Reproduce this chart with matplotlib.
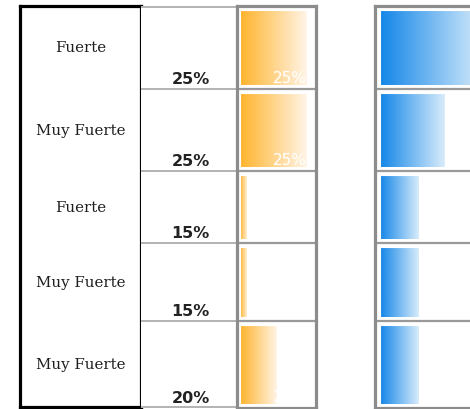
import matplotlib
matplotlib.use('agg')
import matplotlib.pyplot as plt
import numpy as np
from matplotlib.colors import LinearSegmentedColormap

# data
labels = ['Fuerte', 'Muy Fuerte', 'Fuerte', 'Muy Fuerte', 'Muy Fuerte']
pct = [25, 25, 15, 15, 20]
pct_text = ['25%', '25%', '15%', '15%', '20%']
blue_vals = [40, 25, 15, 15, 15]

# layout (pixels from the top of a 470x409 canvas)
W, H = 470, 409
row_edges = [6, 89, 171, 243, 321, 408]
orange_base = 13.83

fig = plt.figure(figsize=(W / 100, H / 100), dpi=100)

def add_ax(x0, x1, y0, y1):
    ax = fig.add_axes([x0 / W, 1 - y1 / H, (x1 - x0) / W, (y1 - y0) / H])
    ax.set_xticks([])
    ax.set_yticks([])
    return ax

centers = [(a + b) / 2 for a, b in zip(row_edges[:-1], row_edges[1:])]
heights = [b - a for a, b in zip(row_edges[:-1], row_edges[1:])]

# label column
ax_lab = add_ax(20, 141, 6, 407)
ax_lab.set_xlim(0, 1)
ax_lab.set_ylim(407, 6)
for s in ax_lab.spines.values():
    s.set_linewidth(2.3)
    s.set_color('black')
for c, lab in zip(centers, labels):
    ax_lab.text(0.5, c + 1, lab, ha='center', va='center', family='DejaVu Serif',
                fontsize=10.8, color='#1e1e1e')

# percent column
ax_pct = add_ax(141, 236, 6, 408)
ax_pct.set_xlim(0, 1)
ax_pct.set_ylim(408, 6)
for s in ax_pct.spines.values():
    s.set_visible(False)
for e in [7] + row_edges[1:-1] + [407]:
    ax_pct.axhline(e, color='#a6a6a6', lw=1.2)
for b, t in zip(row_edges[1:], pct_text):
    ax_pct.text(0.52, b - 5, t, ha='center', va='baseline', fontsize=11.5,
                fontweight='bold', color='#222222')

def gradient_bars(ax, vals, base, c0, c1, inset=3.5):
    cmap = LinearSegmentedColormap.from_list('g', [c0, c1])
    grad = np.linspace(0, 1, 256).reshape(1, -1)
    bars = ax.barh(centers, [v - base for v in vals], left=base,
                   height=[h - 2 * inset for h in heights], color='none',
                   edgecolor='white', lw=0.8, zorder=3)
    for bar in bars:
        x0, y0 = bar.get_x(), bar.get_y()
        w, h = bar.get_width(), bar.get_height()
        im = ax.imshow(grad, cmap=cmap, aspect='auto', zorder=2,
                       extent=(x0, x0 + w, y0 + h, y0))
        im.set_clip_path(bar)
    return bars

def frame(ax):
    for s in ax.spines.values():
        s.set_linewidth(2.3)
        s.set_color('#8c8c8c')
    for e in row_edges[1:-1]:
        ax.axhline(e, color='#999999', lw=1.6)

# orange column
ax_or = add_ax(237, 316, 6, 408)
obars = gradient_bars(ax_or, pct, orange_base, '#ffb32c', '#fff6ea')
ax_or.set_xlim(orange_base - 3 / 6, orange_base + 76 / 6)
ax_or.set_ylim(408, 6)
frame(ax_or)
for bar, b, t in zip(obars, row_edges[1:], pct_text):
    txt = ax_or.text(0.455, b - 6, t, transform=ax_or.get_yaxis_transform(),
                     ha='left', va='baseline', fontsize=11, color='white',
                     zorder=4)
    txt.set_clip_path(bar)

# blue column
ax_bl = add_ax(375, 560, 6, 408)
gradient_bars(ax_bl, blue_vals, 0, '#1386e8', '#d8ecfb')
ax_bl.set_xlim(-5 / 2.6, 180 / 2.6)
ax_bl.set_ylim(408, 6)
frame(ax_bl)

plt.savefig('out.png', dpi=100)
plt.close()
